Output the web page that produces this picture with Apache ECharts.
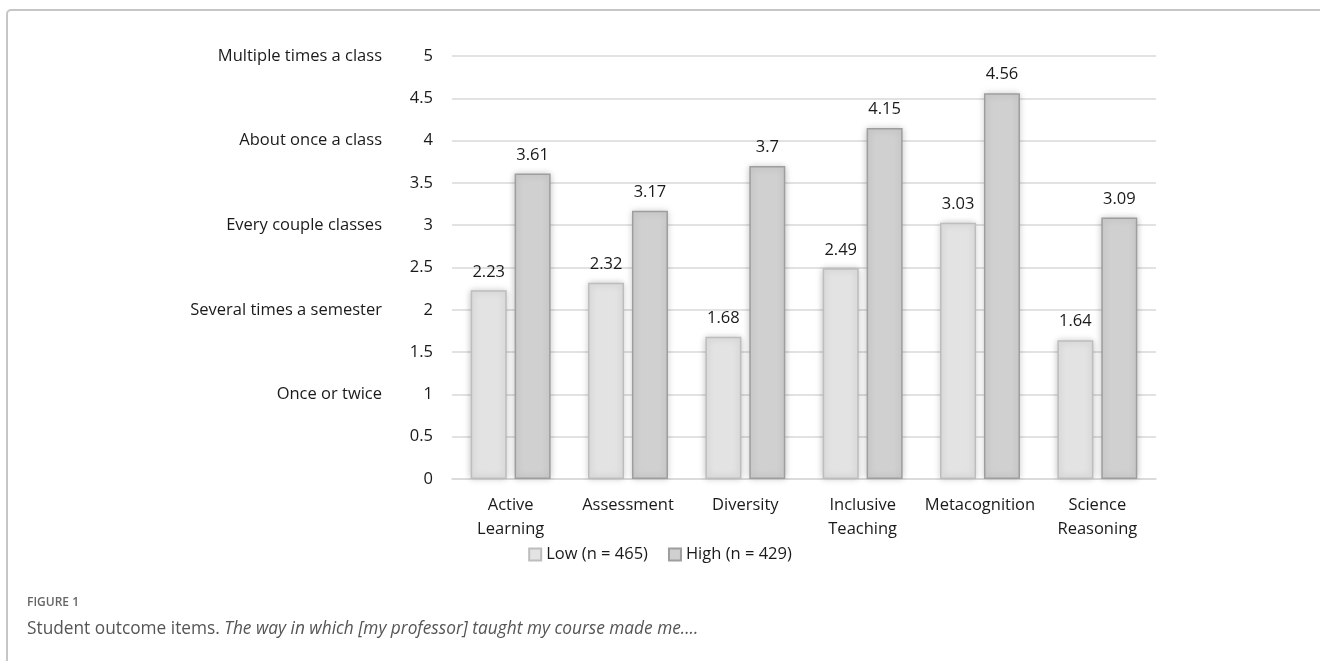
<!DOCTYPE html>
<html>
<head>
<meta charset="utf-8">
<script src="https://cdn.jsdelivr.net/npm/echarts@6/dist/echarts.min.js"></script>
<style>
  html, body { margin: 0; padding: 0; background: #fff; }
  #chart { width: 1320px; height: 661px; }
</style>
</head>
<body>
<div id="chart"></div>
<script>
// data
const categories = ["Active\nLearning", "Assessment", "Diversity", "Inclusive\nTeaching", "Metacognition", "Science\nReasoning"];
const lowValues = [2.23, 2.32, 1.68, 2.49, 3.03, 1.64];
const highValues = [3.61, 3.17, 3.7, 4.15, 4.56, 3.09];
const seriesNames = ["Low (n = 465)", "High (n = 429)"];
// frequency anchors on the left
const freqLabels = {
  1: "Once or twice",
  2: "Several times a semester",
  3: "Every couple classes",
  4: "About once a class",
  5: "Multiple times a class"
};

const FONT = "Open Sans";
const FS = 16.5;

const chart = echarts.init(document.getElementById("chart"));

function barSeries(name, data, fill, border) {
  return {
    name: name,
    type: "bar",
    data: data,
    barWidth: 36,
    barGap: "22%",
    itemStyle: {
      color: fill,
      borderColor: border,
      borderWidth: 1.5,
      shadowBlur: 7,
      shadowColor: "rgba(0,0,0,0.22)"
    },
    label: {
      show: true,
      position: "top",
      distance: 10,
      color: "#1a1a1a",
      fontFamily: FONT,
      fontSize: FS
    }
  };
}

chart.setOption({
  animation: false,
  textStyle: { fontFamily: FONT },
  grid: { left: 452, right: 164, top: 56, bottom: 182 },
  legend: {
    bottom: 93,
    left: "center",
    itemWidth: 12,
    itemHeight: 12,
    itemGap: 20,
    icon: "rect",
    textStyle: { color: "#1a1a1a", fontSize: FS, fontFamily: FONT },
    data: seriesNames
  },
  xAxis: {
    type: "category",
    data: categories,
    axisLine: { lineStyle: { color: "#d9d9d9", width: 1.5 } },
    axisTick: { show: false },
    axisLabel: { color: "#1a1a1a", fontSize: FS, lineHeight: 24, margin: 14, interval: 0 }
  },
  yAxis: [
    {
      type: "value",
      min: 0, max: 5, interval: 0.5,
      axisLine: { show: false },
      axisTick: { show: false },
      splitLine: { lineStyle: { color: "#d9d9d9", width: 1.5 } },
      axisLabel: { color: "#1a1a1a", fontSize: FS, margin: 19 }
    },
    {
      type: "value",
      position: "left",
      min: 0, max: 5, interval: 0.5,
      axisLine: { show: false },
      axisTick: { show: false },
      splitLine: { show: false },
      axisLabel: {
        color: "#1a1a1a", fontSize: FS, margin: 70,
        formatter: function (v) { return freqLabels[v] || ""; }
      }
    }
  ],
  series: [
    barSeries(seriesNames[0], lowValues, "#e3e3e3", "#bdbdbd"),
    barSeries(seriesNames[1], highValues, "#d0d0d0", "#9e9e9e")
  ],
  graphic: [
    {
      type: "rect",
      shape: { x: 7, y: 10, width: 1330, height: 680, r: 4 },
      style: { fill: null, stroke: "#c6c6c6", lineWidth: 2 },
      silent: true
    },
    {
      type: "text",
      left: 27, top: 597,
      style: { text: "FIGURE 1", fill: "#666", font: "600 12px " + FONT }
    },
    {
      type: "text",
      left: 27, top: 621,
      style: {
        text: "{n|Student outcome items. }{i|The way in which [my professor] taught my course made me....}",
        rich: {
          n: { fill: "#555", fontSize: 17.3, fontFamily: FONT },
          i: { fill: "#555", fontSize: 17.3, fontFamily: FONT, fontStyle: "italic" }
        }
      }
    }
  ]
});
</script>
</body>
</html>
